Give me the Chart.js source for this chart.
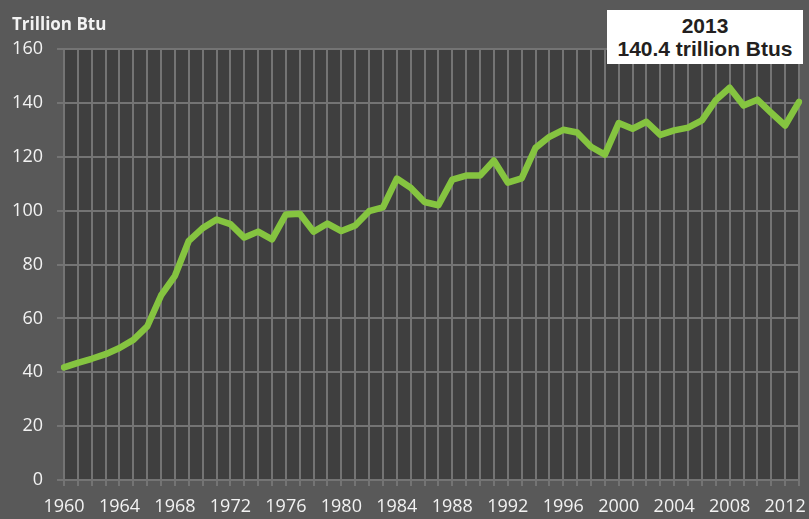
<!DOCTYPE html>
<html>
<head>
<meta charset="utf-8">
<script src="https://cdn.jsdelivr.net/npm/chart.js@4"></script>
<style>
  html, body { margin: 0; padding: 0; background: #595959; }
  #wrap { position: relative; width: 809px; height: 519px; }
  #note {
    position: absolute; left: 607px; top: 10px; width: 196px; height: 54px;
    box-sizing: border-box; padding-top: 4px; background: #ffffff; color: #231f20;
    font: bold 21px "Liberation Sans", Arial, sans-serif; line-height: 23px; text-align: center;
  }
</style>
</head>
<body>
<div id="wrap">
  <canvas id="chart" width="809" height="519"></canvas>
  <div id="note">2013<br>140.4 trillion Btus</div>
</div>
<script>
  // Data.
  const years = [
    '1960', '1961', '1962', '1963', '1964', '1965', '1966', '1967', '1968', '1969',
    '1970', '1971', '1972', '1973', '1974', '1975', '1976', '1977', '1978', '1979',
    '1980', '1981', '1982', '1983', '1984', '1985', '1986', '1987', '1988', '1989',
    '1990', '1991', '1992', '1993', '1994', '1995', '1996', '1997', '1998', '1999',
    '2000', '2001', '2002', '2003', '2004', '2005', '2006', '2007', '2008', '2009',
    '2010', '2011', '2012', '2013'
  ];
  const trillionBtu = [
    41.8, 43.5, 45.0, 46.7, 49.0, 52.0, 57.0, 68.5, 75.8, 88.8,
    93.5, 96.7, 95.0, 90.0, 92.2, 89.3, 98.6, 98.8, 92.2, 95.2,
    92.4, 94.5, 99.8, 101.2, 111.9, 108.5, 103.2, 102.0, 111.5, 113.0,
    113.0, 118.6, 110.4, 112.0, 123.3, 127.4, 130.0, 129.0, 123.7, 120.8,
    132.5, 130.4, 133.0, 128.1, 129.8, 130.8, 133.5, 141.0, 145.6, 139.0,
    141.2, 136.3, 131.6, 140.4
  ];
  const yTicks = { min: 0, max: 160, step: 20 };
  const axisTitle = 'Trillion Btu';

  const gridColor = '#747474';
  const labelColor = '#f2f2f2';
  const labelFont = { family: '"Open Sans", sans-serif', size: 18 };

  // Dark plot area and the axis title.
  const backdrop = {
    id: 'backdrop',
    beforeDraw( chart ) {
      const a = chart.chartArea;
      const ctx = chart.ctx;
      ctx.save();
      ctx.fillStyle = '#3f3f3f';
      ctx.fillRect( a.left, a.top, a.right - a.left, a.bottom - a.top );
      ctx.restore();
    },
    afterDraw( chart ) {
      const ctx = chart.ctx;
      ctx.save();
      ctx.font = 'bold 17px "Open Sans", sans-serif';
      ctx.fillStyle = labelColor;
      ctx.textBaseline = 'alphabetic';
      ctx.fillText( axisTitle, 12, 30 );
      ctx.restore();
    }
  };

  new Chart( document.getElementById( 'chart' ).getContext( '2d' ), {
    type: 'line',
    data: {
      labels: years,
      datasets: [ {
        data: trillionBtu,
        borderColor: '#85c440',
        borderWidth: 6.5,
        borderJoinStyle: 'round',
        borderCapStyle: 'round',
        pointRadius: 0,
        tension: 0,
        fill: false
      } ]
    },
    options: {
      responsive: false,
      animation: false,
      layout: { padding: { top: 49, right: 6, left: 0, bottom: 0 } },
      plugins: {
        legend: { display: false },
        tooltip: { enabled: false }
      },
      scales: {
        x: {
          offset: false,
          afterFit: ( scale ) => { scale.height = 39; },
          grid: { color: gridColor, lineWidth: 2, tickLength: 6 },
          border: { color: gridColor, width: 2 },
          ticks: {
            autoSkip: false,
            maxRotation: 0,
            color: labelColor,
            font: labelFont,
            padding: 10,
            callback: function ( value, index ) {
              return index % 4 === 0 ? this.getLabelForValue( value ) : '';
            }
          }
        },
        y: {
          min: yTicks.min,
          max: yTicks.max,
          afterFit: ( scale ) => { scale.width = 64; },
          grid: { color: gridColor, lineWidth: 2, tickLength: 7 },
          border: { color: gridColor, width: 2 },
          ticks: {
            stepSize: yTicks.step,
            color: labelColor,
            font: labelFont,
            padding: 14
          }
        }
      }
    },
    plugins: [ backdrop ]
  } );
</script>
</body>
</html>
